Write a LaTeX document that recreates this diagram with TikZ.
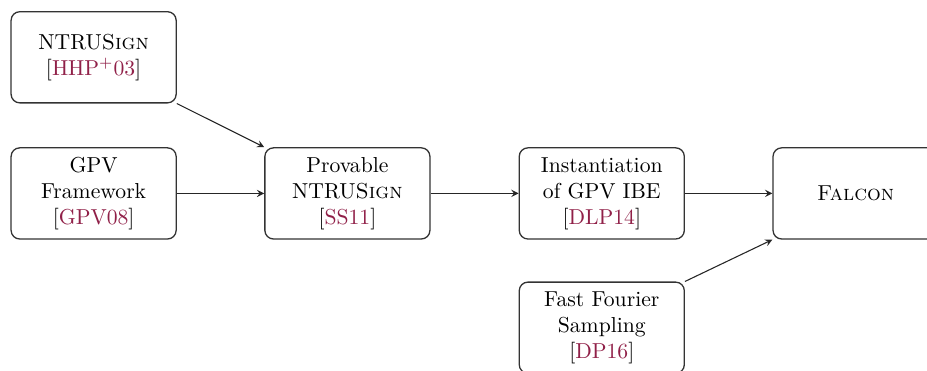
\documentclass[tikz,border=0pt]{standalone}
\usepackage{xcolor}
\definecolor{citered}{RGB}{144,32,72}
\newcommand{\citelbl}[1]{[\textcolor{citered}{#1}]}
\begin{document}
\begin{tikzpicture}[>=stealth,
  paper/.style={draw=black!80, line width=0.6pt, rounded corners=4pt,
    minimum width=2.68cm, minimum height=1.48cm, align=center, inner sep=2pt},
  link/.style={->, draw=black!85, line width=0.5pt}]

  \useasboundingbox (0,0) rectangle (15.05,-6.02);

  \node [paper] (ntrusign) at (1.52,-0.93) {NTRU\textsc{Sign}\\\citelbl{HHP$^{+}$03}};
  \node [paper] (gpv) at (1.52,-3.14) {GPV\\Framework\\\citelbl{GPV08}};
  \node [paper] (provable) at (5.64,-3.14) {Provable\\NTRU\textsc{Sign}\\\citelbl{SS11}};
  \node [paper] (ibe) at (9.77,-3.14) {Instantiation\\of GPV IBE\\\citelbl{DLP14}};
  \node [paper] (falcon) at (13.89,-3.14) {\textsc{Falcon}};
  \node [paper] (ffs) at (9.77,-5.32) {Fast Fourier\\Sampling\\\citelbl{DP16}};

  \draw [link] (ntrusign.south east) -- (provable.north west);
  \draw [link] (gpv) -- (provable);
  \draw [link] (provable) -- (ibe);
  \draw [link] (ibe) -- (falcon);
  \draw [link] (ffs.north east) -- (falcon.south west);

\end{tikzpicture}
\end{document}
